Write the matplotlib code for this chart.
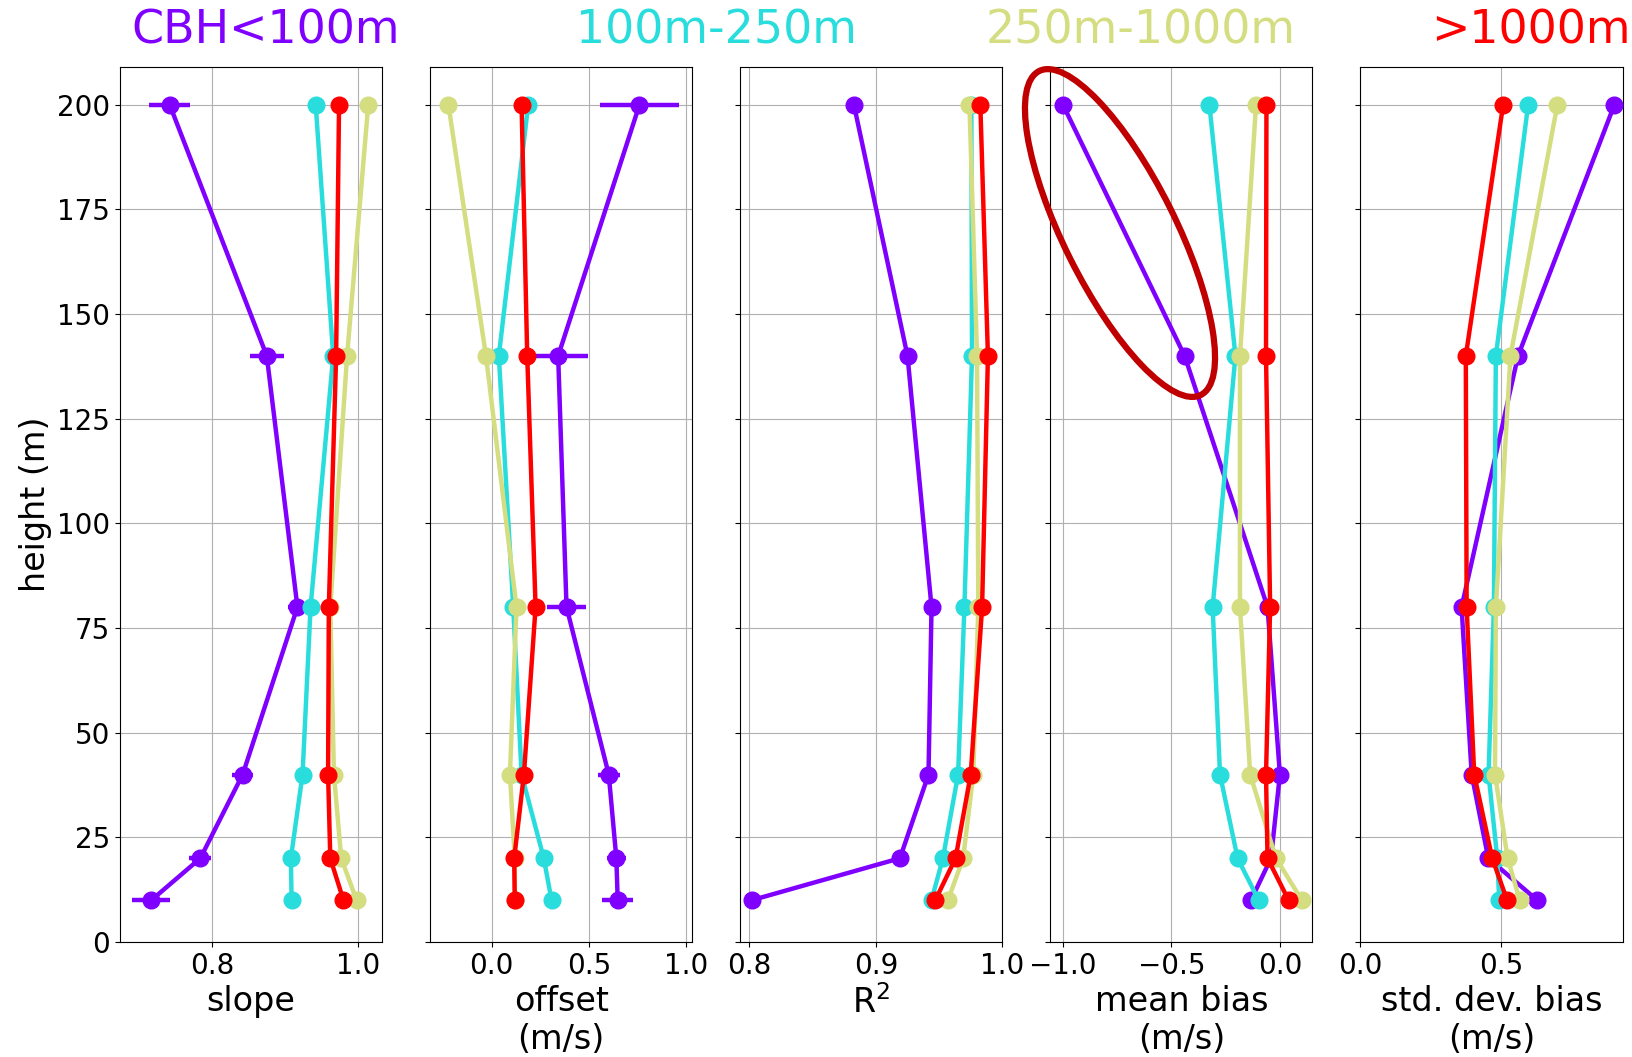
import numpy as np
import matplotlib
matplotlib.use("Agg")
import matplotlib.pyplot as plt
from matplotlib.patches import Ellipse

# heights of the measurement levels (m)
height = [10, 20, 40, 80, 140, 200]

# cloud base height classes
classes = ["CBH<100m", "100m-250m", "250m-1000m", ">1000m"]
colors = [plt.cm.rainbow(v) for v in np.linspace(0, 1, 4)]

# slope
slope = [
    [0.717, 0.784, 0.842, 0.917, 0.875, 0.742],
    [0.909, 0.908, 0.924, 0.935, 0.966, 0.942],
    [0.998, 0.977, 0.967, 0.962, 0.985, 1.014],
    [0.980, 0.962, 0.959, 0.960, 0.970, 0.974],
]
slope_err = [0.026, 0.015, 0.014, 0.013, 0.023, 0.028]

# offset (m/s)
offset = [
    [0.648, 0.641, 0.602, 0.385, 0.342, 0.760],
    [0.308, 0.268, 0.154, 0.111, 0.037, 0.188],
    [0.119, 0.119, 0.094, 0.128, -0.029, -0.222],
    [0.119, 0.116, 0.166, 0.226, 0.183, 0.154],
]
offset_err = [0.079, 0.05, 0.057, 0.099, 0.154, 0.203]

# R^2
r2 = [
    [0.802, 0.919, 0.9416, 0.944, 0.925, 0.8826],
    [0.944, 0.953, 0.965, 0.970, 0.976, 0.9755],
    [0.957, 0.969, 0.977, 0.981, 0.980, 0.974],
    [0.947, 0.963, 0.975, 0.984, 0.9886, 0.9826],
]

# mean bias (m/s)
mean_bias = [
    [-0.133, -0.041, 0.0, -0.057, -0.439, -1.0],
    [-0.098, -0.195, -0.276, -0.310, -0.205, -0.325],
    [0.101, -0.018, -0.137, -0.184, -0.184, -0.110],
    [0.040, -0.057, -0.064, -0.045, -0.064, -0.062],
]

# std. dev. bias (m/s)
std_bias = [
    [0.629, 0.455, 0.396, 0.360, 0.561, 0.904],
    [0.494, 0.487, 0.456, 0.475, 0.482, 0.597],
    [0.567, 0.524, 0.479, 0.482, 0.534, 0.701],
    [0.522, 0.469, 0.405, 0.378, 0.375, 0.508],
]

panels = [slope, offset, r2, mean_bias, std_bias]
errs = [slope_err, offset_err, None, None, None]
xlabels = ["slope", "offset\n(m/s)", "R$^2$", "mean bias\n(m/s)", "std. dev. bias\n(m/s)"]
xticks = [[0.8, 1.0], [0.0, 0.5, 1.0], [0.8, 0.9, 1.0], [-1.0, -0.5, 0.0], [0.0, 0.5]]
xlims = [(0.674, 1.033), (-0.316, 1.031), (0.7927, 1.0), (-1.058, 0.150), (0.0, 0.933)]

fig = plt.figure(figsize=(16.33, 10.57), dpi=100)

left, bottom, w, h, gap = 0.0735, 0.1088, 0.1605, 0.8278, 0.0294
axes = []
for i in range(5):
    ax = fig.add_axes([left + i * (w + gap), bottom, w, h],
                      sharey=axes[0] if axes else None)
    axes.append(ax)

for i, ax in enumerate(axes):
    data = panels[i]
    for k in range(4):
        if k == 0 and errs[i] is not None:
            ax.errorbar(data[k], height, xerr=errs[i], color=colors[k],
                        marker='o', markersize=12, linewidth=3.2,
                        elinewidth=3.2, capsize=0, zorder=3 + k)
        else:
            ax.plot(data[k], height, color=colors[k], marker='o',
                    markersize=12, linewidth=3.2, zorder=3 + k)
    ax.set_xlim(xlims[i])
    ax.set_xticks(xticks[i])
    ax.set_xlabel(xlabels[i], fontsize=24)
    ax.tick_params(labelsize=20)
    ax.grid(True, color='#b0b0b0', linewidth=0.8)
    ax.set_axisbelow(True)
    if i > 0:
        plt.setp(ax.get_yticklabels(), visible=False)

axes[0].set_ylim(0, 209)
axes[0].set_yticks(np.arange(0, 201, 25))
axes[0].set_ylabel("height (m)", fontsize=24)

# class titles on top
title_x = [266, 716, 1141, 1531]
for k in range(4):
    fig.text(title_x[k] / 1633, 0.971, classes[k], color=colors[k],
             fontsize=33, ha='center', va='center')

# red ellipse highlighting the CBH<100m mean bias at upper levels
ell = Ellipse((11.20, 8.24), 3.62, 1.12, angle=-63.5, fill=False,
              edgecolor='#c00000', linewidth=4.5,
              transform=fig.dpi_scale_trans, zorder=10)
fig.add_artist(ell)

fig.savefig("out.png", dpi=100)
